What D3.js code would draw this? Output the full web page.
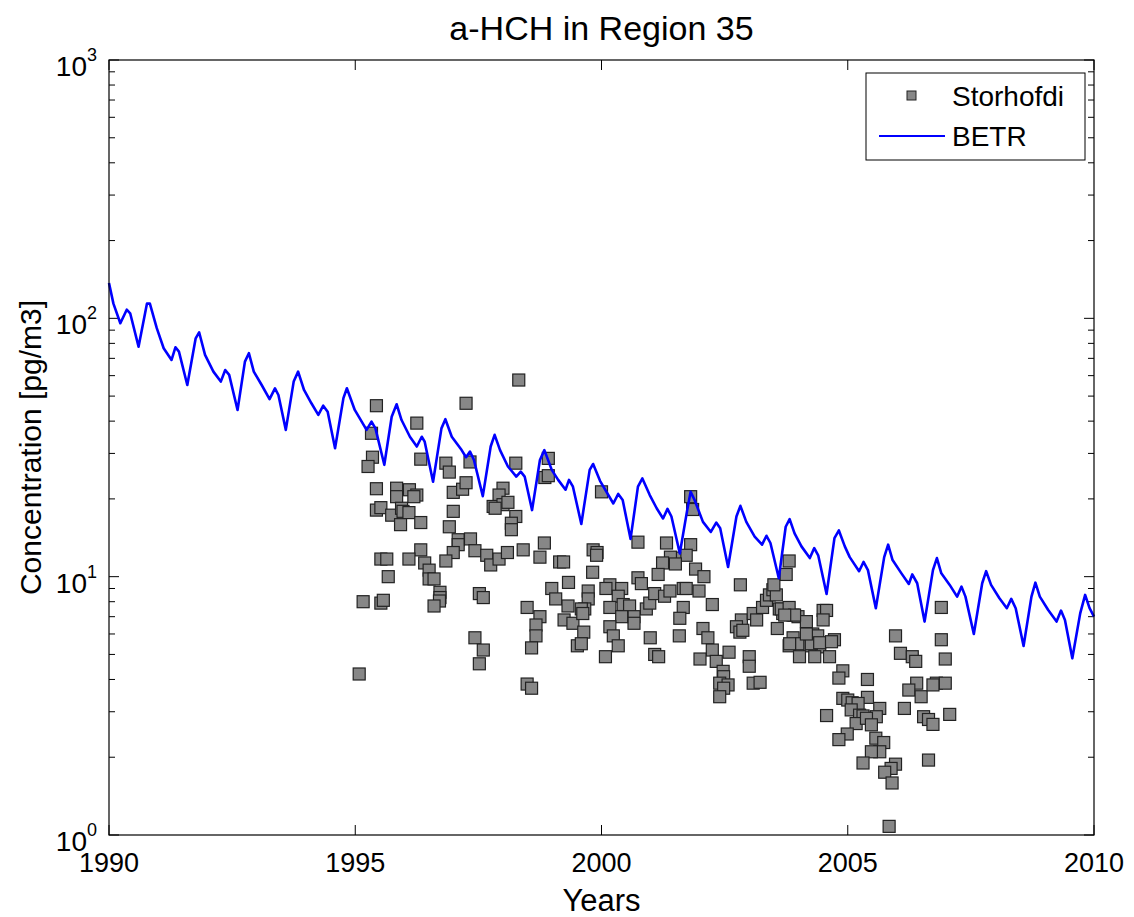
<!DOCTYPE html>
<html>
<head>
<meta charset="utf-8">
<script src="https://cdn.jsdelivr.net/npm/d3@7"></script>
<style>
  body { margin: 0; background: #fff; }
  svg { display: block; font-family: "Liberation Sans", Arial, Helvetica, sans-serif; }
</style>
</head>
<body>
<svg width="1134" height="917"></svg>
<script>
// BETR model output (vertices)
const betrYear = [
  1990.00, 1990.09, 1990.23, 1990.36, 1990.43, 1990.60, 1990.77, 1990.83, 1990.97,
  1991.11, 1991.27, 1991.35, 1991.42, 1991.59, 1991.76, 1991.83, 1991.95,
  1992.12, 1992.27, 1992.36, 1992.44, 1992.61, 1992.76, 1992.84, 1992.94,
  1993.10, 1993.26, 1993.37, 1993.44, 1993.59, 1993.75, 1993.84, 1993.96,
  1994.11, 1994.25, 1994.35, 1994.44, 1994.59, 1994.76, 1994.83, 1994.99,
  1995.23, 1995.33, 1995.41, 1995.59, 1995.74, 1995.84, 1995.94,
  1996.11, 1996.25, 1996.35, 1996.41, 1996.58, 1996.75, 1996.83, 1996.96,
  1997.16, 1997.25, 1997.33, 1997.41, 1997.59, 1997.75, 1997.83, 1997.94,
  1998.10, 1998.27, 1998.36, 1998.44, 1998.59, 1998.75, 1998.84, 1998.99,
  1999.12, 1999.27, 1999.34, 1999.42, 1999.59, 1999.76, 1999.83, 1999.97,
  2000.24, 2000.34, 2000.43, 2000.59, 2000.74, 2000.83, 2000.98,
  2001.12, 2001.25, 2001.34, 2001.42, 2001.59, 2001.74, 2001.81, 2001.89,
  2002.06, 2002.22, 2002.33, 2002.41, 2002.57, 2002.74, 2002.82, 2002.94,
  2003.11, 2003.26, 2003.35, 2003.43, 2003.60, 2003.74, 2003.82, 2003.92,
  2004.06, 2004.23, 2004.32, 2004.40, 2004.57, 2004.73, 2004.82, 2004.94,
  2005.04, 2005.23, 2005.32, 2005.41, 2005.57, 2005.74, 2005.82, 2005.91,
  2006.09, 2006.24, 2006.31, 2006.41, 2006.56, 2006.73, 2006.81, 2006.90,
  2007.07, 2007.22, 2007.31, 2007.39, 2007.56, 2007.73, 2007.81, 2007.91,
  2008.08, 2008.23, 2008.32, 2008.41, 2008.57, 2008.73, 2008.81, 2008.90,
  2009.07, 2009.24, 2009.33, 2009.41, 2009.56, 2009.72, 2009.82, 2009.91, 2010.00
];
const betrValue = [
  137, 114, 95.7, 108, 104.6, 77.7, 114, 114, 91.6,
  76.6, 69, 77.3, 74.3, 55.2, 83.7, 88.3, 72.2,
  62.2, 56.9, 63.1, 60.4, 44.2, 68, 73.3, 62.2,
  55.2, 48.7, 53.6, 50.5, 37, 56.9, 62.2, 52.8,
  46.9, 42.3, 45.9, 43.5, 31.4, 49.1, 53.6, 44.2,
  37, 39.8, 37.5, 27.1, 41.6, 46.5, 40.4,
  34.8, 31.9, 34.8, 33.3, 23.3, 37.5, 40.7, 34.8,
  30.9, 29, 30.5, 28.3, 20.5, 31.9, 35.4, 30.9,
  26.7, 24.4, 25.5, 24.4, 18.1, 28.3, 30.9, 25.9,
  23.7, 21.7, 23.7, 22.3, 16, 25.9, 27.3, 23.5,
  19.2, 20.9, 19.8, 14, 22.3, 24, 20.7,
  18.4, 16.8, 18.3, 17.1, 12.3, 18.1, 21.3, 19.8,
  16.3, 14.9, 16.2, 15.4, 10.9, 17.1, 18.8, 16.3,
  14.3, 13.3, 14.4, 13.5, 9.86, 15.6, 16.7, 14.7,
  13.1, 11.8, 12.9, 12.1, 8.57, 14.1, 15.1, 13.1,
  11.9, 10.5, 11.4, 10.6, 7.55, 11.9, 13.3, 11.6,
  10.3, 9.37, 10.2, 9.43, 6.7, 10.6, 11.8, 10.3,
  9.29, 8.37, 9.15, 8.37, 6.0, 9.43, 10.5, 9.29,
  8.25, 7.55, 8.2, 7.55, 5.39, 8.37, 9.48, 8.37,
  7.43, 6.7, 7.39, 6.8, 4.83, 7.21, 8.5, 7.55, 7.0
];

// Storhofdi measurements
const obsYear = [
  1998.32, 1995.43, 1997.25, 1996.25, 1995.33, 1995.35, 1995.26, 1996.33, 1996.84, 1996.91,
  1997.33, 1998.26, 1998.92, 1998.85, 1998.92, 1995.43, 1995.84, 1995.84, 1996.10, 1996.25,
  1996.19, 1995.43, 1995.52, 1995.74, 1995.94, 1995.97, 1996.09, 1995.92, 1996.33, 1996.99,
  1997.18, 1997.25, 1996.99, 1996.91, 1998.00, 1997.92, 1997.80, 1998.00, 1998.10, 1997.84,
  1998.26, 1998.17, 1998.17, 1997.09, 1997.09, 1997.34, 1996.99, 1996.84, 1997.43, 1997.67,
  1997.75, 1997.92, 1998.09, 1998.41, 1998.75, 1998.84, 1996.33, 1996.09, 1996.41, 1996.50,
  1996.50, 1996.60, 1995.52, 1995.64, 1995.67, 1995.16, 1995.52, 1995.57, 1996.72, 1996.72,
  1996.71, 1996.60, 1997.52, 1997.60, 1998.49, 1998.75, 1998.67, 1998.67, 1998.58, 1998.99,
  1999.07, 1999.33, 1999.32, 1999.24, 1999.42, 1999.51, 1999.64, 1999.73, 1999.73, 1999.66,
  1999.82, 1999.83, 1999.91, 1997.43, 1997.60, 1997.52, 1995.08, 1998.49, 1998.58, 1999.15,
  1999.23, 1999.59, 1999.62, 1999.59,
  2000.00, 1999.90, 2000.74, 2001.32, 2001.81, 2001.85, 2001.81, 2001.72, 2001.49, 2001.40,
  2001.50, 2001.24, 2001.15, 2001.91, 2002.08, 2000.74, 2000.81, 2000.17, 2000.09, 2000.41,
  2000.34, 2000.17, 2000.44, 2000.57, 2000.91, 2000.98, 2001.08, 2001.28, 2001.39, 2001.66,
  2001.72, 2001.98, 2001.66, 2001.59, 2000.66, 2000.66, 2000.41, 2000.17, 2000.24, 2000.34,
  2000.08, 2000.99, 2001.08, 2001.16, 2001.58, 2002.25, 2002.06, 2002.16, 2002.25, 2002.00,
  2002.33, 2002.47, 2002.48, 2002.40, 2002.57, 2002.48, 2002.40, 2002.59, 2002.82, 2002.84,
  2002.74, 2002.81, 2002.87, 2003.00, 2003.00, 2003.08, 2003.22, 2003.08, 2003.15, 2003.27,
  2003.35, 2003.41, 2003.48, 2003.55, 2003.61, 2003.50, 2003.57, 2003.68, 2003.65, 2003.75,
  2003.81, 2003.89, 2003.99, 2004.16, 2003.89, 2003.81, 2004.06, 2004.29, 2004.39, 2004.43,
  2004.23, 2004.02, 2004.33, 2004.63, 2004.73, 2004.50, 2004.57, 2004.50, 2003.81, 2003.92,
  2003.72, 2004.26, 2004.43, 2004.67, 2003.82, 2004.16,
  2006.90, 2006.90, 2006.98, 2007.07, 2006.64, 2005.97, 2006.07, 2006.31, 2006.38, 2006.40,
  2006.24, 2006.49, 2006.80, 2006.98, 2006.73, 2006.15, 2006.54, 2006.64, 2006.73, 2005.40,
  2005.40, 2005.65, 2005.58, 2004.90, 2004.82, 2004.57, 2004.90, 2005.00, 2005.09, 2005.21,
  2005.07, 2005.24, 2005.31, 2005.17, 2005.38, 2005.48, 2004.99, 2004.82, 2005.57, 2005.73,
  2005.65, 2005.48, 2005.31, 2005.97, 2005.88, 2005.75, 2005.90, 2005.84
];
const obsValue = [
  57.7, 45.9, 46.9, 39.3, 35.9, 29, 26.7, 28.5, 27.5, 25.4,
  27.8, 27.5, 28.7, 24.2, 24.6, 21.9, 22, 20.4, 21.7, 20.7,
  20.4, 18.1, 18.5, 17.3, 18.4, 17.9, 17.7, 15.9, 16.2, 21.2,
  21.8, 23.1, 17.9, 15.6, 22, 20.7, 18.7, 19.0, 19.4, 18.4,
  17.1, 16.1, 15.2, 13.9, 13.3, 14.0, 12.4, 11.5, 12.6, 12.1,
  11.1, 11.7, 12.4, 12.7, 11.9, 13.5, 12.7, 11.7, 11.3, 10.6,
  9.8, 9.8, 11.7, 11.7, 10.0, 8.0, 7.9, 8.1, 8.7, 8.3,
  8.05, 7.7, 8.6, 8.3, 7.6, 7.0, 6.5, 5.9, 5.3, 9.0,
  8.2, 9.5, 7.7, 6.8, 6.6, 5.4, 6.1, 8.8, 8.2, 7.5,
  10.4, 12.7, 12.4, 5.8, 5.2, 4.6, 4.2, 3.84, 3.7, 11.4,
  11.4, 7.5, 7.2, 5.5,
  21.3, 12.1, 13.6, 13.5, 20.4, 18.2, 13.3, 12.1, 11.8, 11.9,
  11.2, 11.3, 10.2, 10.7, 10.0, 9.9, 9.4, 9.3, 9.0, 9.0,
  8.4, 7.6, 7.8, 7.7, 7.5, 7.9, 8.6, 8.4, 8.8, 9.0,
  9.0, 8.8, 7.6, 6.9, 7.0, 6.6, 7.0, 6.4, 5.9, 5.4,
  4.9, 5.8, 5.0, 4.9, 5.9, 7.8, 6.3, 5.8, 5.2, 4.8,
  4.7, 4.3, 4.1, 3.87, 3.81, 3.7, 3.43, 5.1, 9.3, 6.8,
  6.4, 6.1, 6.2, 4.9, 4.5, 3.87, 3.9, 7.2, 6.8, 7.6,
  8.1, 8.5, 8.9, 8.5, 7.5, 9.3, 6.3, 7.2, 7.5, 10.2,
  11.5, 7.1, 7.0, 6.7, 5.8, 5.4, 5.5, 6.0, 5.9, 5.35,
  5.4, 4.9, 4.9, 4.9, 5.7, 7.4, 7.4, 6.8, 7.6, 7.1,
  7.1, 5.5, 5.55, 5.6, 5.5, 6.0,
  7.6, 5.7, 4.8, 2.93, 1.95, 5.9, 5.05, 4.9, 4.7, 3.87,
  3.64, 3.43, 3.87, 3.87, 3.81, 3.09, 2.87, 2.8, 2.68, 4.0,
  3.41, 3.09, 2.87, 4.32, 4.05, 2.9, 3.38, 3.33, 3.25, 3.23,
  3.05, 2.91, 2.89, 2.7, 2.83, 2.67, 2.46, 2.34, 2.37, 2.28,
  2.1, 2.1, 1.9, 1.88, 1.81, 1.75, 1.59, 1.08
];

const xTicks = [1990, 1995, 2000, 2005, 2010];
const yTicks = [1, 10, 100, 1000];
const yExponents = ["0", "1", "2", "3"];
const legendLabels = ["Storhofdi", "BETR"];

const svg = d3.select("svg");
const margin = { left: 109, right: 40, top: 60, bottom: 82 };
const width = +svg.attr("width") - margin.left - margin.right;
const height = +svg.attr("height") - margin.top - margin.bottom;

const g = svg.append("g")
  .attr("transform", "translate(" + margin.left + "," + margin.top + ")");

const x = d3.scaleLinear().domain([1990, 2010]).range([0, width]);
const y = d3.scaleLog().domain([1, 1000]).range([height, 0]);

// minor ticks 2..9 inside each decade
let minor = [];
for (let k = 0; k < 3; k++) {
  for (let m = 2; m <= 9; m++) minor.push(m * Math.pow(10, k));
}

// Tick marks drawn inward on all four sides, MATLAB style
const tickCol = "#000";
g.selectAll(".xt").data(xTicks).enter().append("path")
  .attr("d", d => "M" + x(d) + "," + height + "v-10M" + x(d) + ",0v10")
  .attr("stroke", tickCol).attr("stroke-width", 1);
g.selectAll(".yt").data(yTicks).enter().append("path")
  .attr("d", d => "M0," + y(d) + "h10M" + width + "," + y(d) + "h-10")
  .attr("stroke", tickCol).attr("stroke-width", 1);
g.selectAll(".ym").data(minor).enter().append("path")
  .attr("d", d => "M0," + y(d) + "h6M" + width + "," + y(d) + "h-6")
  .attr("stroke", tickCol).attr("stroke-width", 1);

// Tick labels
g.selectAll(".xl").data(xTicks).enter().append("text")
  .attr("x", d => x(d)).attr("y", height + 37)
  .attr("text-anchor", "middle").attr("font-size", "27px")
  .text(d => d);

const yl = g.selectAll(".yl").data(yTicks).enter().append("text")
  .attr("x", -12).attr("y", d => y(d) + 16)
  .attr("text-anchor", "end").attr("font-size", "28px");
yl.append("tspan").text("10");
yl.append("tspan").attr("dy", -15).attr("font-size", "18px")
  .text((d, i) => yExponents[i]);

// Storhofdi squares
const sq = 12;
g.selectAll(".obs").data(obsYear).enter().append("rect")
  .attr("x", (d, i) => x(d) - sq / 2)
  .attr("y", (d, i) => y(obsValue[i]) - sq / 2)
  .attr("width", sq).attr("height", sq)
  .attr("fill", "#878787").attr("stroke", "#222").attr("stroke-width", 1.2);

// BETR line
const line = d3.line()
  .x(d => x(d[0]))
  .y(d => y(d[1]));
g.append("path")
  .datum(d3.zip(betrYear, betrValue))
  .attr("d", line)
  .attr("fill", "none").attr("stroke", "#0000ff").attr("stroke-width", 2.6)
  .attr("stroke-linejoin", "round");

// Axes box
g.append("rect").attr("width", width).attr("height", height)
  .attr("fill", "none").attr("stroke", "#000").attr("stroke-width", 1.2);

// Legend
const lg = svg.append("g").attr("transform", "translate(866,73)");
lg.append("rect").attr("width", 219).attr("height", 87)
  .attr("fill", "#fff").attr("stroke", "#000").attr("stroke-width", 1);
lg.append("rect").attr("x", 41).attr("y", 18).attr("width", 9).attr("height", 9)
  .attr("fill", "#878787").attr("stroke", "#222");
lg.append("line").attr("x1", 13).attr("x2", 79).attr("y1", 63).attr("y2", 63)
  .attr("stroke", "#0000ff").attr("stroke-width", 2);
lg.selectAll(".lt").data(legendLabels).enter().append("text")
  .attr("x", 86).attr("y", (d, i) => 33 + i * 40)
  .attr("font-size", "28px").text(d => d);

// Title and axis labels
svg.append("text").attr("x", margin.left + width / 2).attr("y", 40)
  .attr("text-anchor", "middle").attr("font-size", "34px")
  .text("a-HCH in Region 35");
svg.append("text").attr("x", margin.left + width / 2).attr("y", 911)
  .attr("text-anchor", "middle").attr("font-size", "31px")
  .text("Years");
svg.append("text")
  .attr("transform", "translate(41," + (margin.top + height / 2) + ") rotate(-90)")
  .attr("text-anchor", "middle").attr("font-size", "30px")
  .text("Concentration [pg/m3]");
</script>
</body>
</html>
